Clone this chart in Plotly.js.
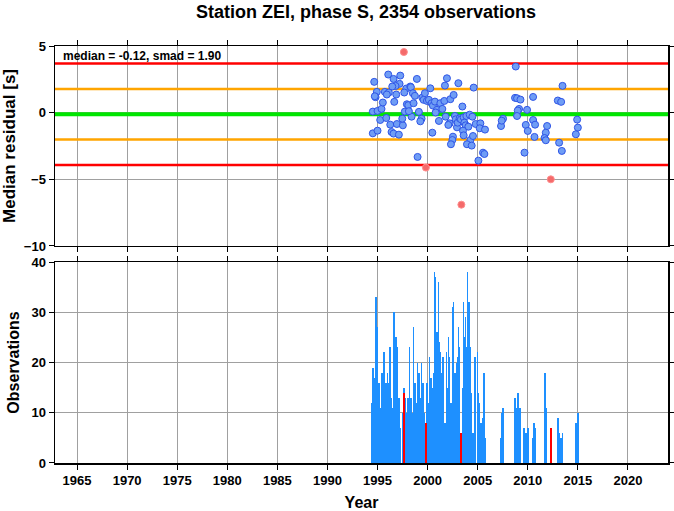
<!DOCTYPE html>
<html>
<head>
<meta charset="utf-8">
<script src="https://cdn.plot.ly/plotly-3.0.1.min.js"></script>
<style>html,body{margin:0;padding:0;background:#fff;}#chart{width:674px;height:511px;}</style>
</head>
<body>
<div id="chart"></div>
<script>
// ---- data ----
const medianValue = -0.12;
const smadValue = 1.90;

const residYears = [1994.67,1994.93,1994.80,1994.73,1994.53,1995.00,1995.40,1995.27,1995.87,1994.53,1995.00,1995.53,1996.07,1996.60,1997.27,1997.20,1996.80,1996.47,1995.73,1996.13,1995.93,1996.67,1996.87,1996.27,1996.93,1997.53,1996.40,1996.60,1997.13,1997.47,1997.73,1997.93,1998.07,1997.87,1998.27,1998.33,1997.67,1998.53,1998.73,1998.60,1998.40,1998.13,1998.93,1999.13,1999.40,1999.27,1999.47,1999.73,1999.60,1999.93,2000.13,2000.27,2000.40,2000.53,2000.73,2000.93,2001.13,2000.80,2001.27,2001.47,2001.67,2001.93,2001.73,2002.27,2002.60,2002.20,2002.07,2001.80,2002.93,2002.73,2003.07,2003.47,2002.80,2003.00,2003.20,2003.33,2003.60,2003.87,2004.20,2004.47,2003.67,2003.80,2004.07,2003.53,2003.60,2002.53,2002.47,2002.33,2004.27,2004.53,2003.93,2004.40,2004.80,2005.27,2005.20,2005.73,2004.60,2000.47,1999.00,2005.07,2005.53,2005.67,2007.33,2007.53,2007.40,2008.80,2008.73,2008.93,2009.27,2009.13,2009.00,2008.93,2009.93,2010.53,2010.53,2009.80,2010.00,2010.73,2010.67,2009.67,2011.80,2011.67,2011.80,2011.93,2013.13,2013.40,2013.47,2013.00,2013.33,2014.93,2015.00,2014.80];
const residValues = [2.31,1.56,1.16,1.23,0.08,0.13,0.28,-0.55,-0.40,-1.55,-1.35,0.76,2.86,2.53,2.78,2.16,2.00,1.96,1.56,1.51,1.36,0.81,1.36,-0.90,-0.85,-0.95,-1.45,-1.57,-1.65,-0.45,0.08,0.63,0.56,1.81,1.96,1.91,1.51,1.46,1.26,0.71,-0.30,0.11,2.53,0.06,-0.45,-0.65,1.13,1.46,0.96,0.88,0.96,1.83,0.71,0.53,0.83,0.21,-0.62,0.01,0.71,0.28,0.88,2.58,2.03,1.01,1.33,-0.80,-0.92,-0.30,-1.10,-0.25,2.21,0.46,-0.50,-0.75,-0.42,-0.50,-0.35,-0.25,-0.15,-0.30,-0.75,-0.95,-1.05,-1.35,-1.70,-1.80,-2.05,-2.37,-2.05,-1.75,-2.37,-2.47,-0.85,-0.80,-1.17,-1.27,1.88,-1.50,-3.32,-3.60,-3.00,-3.10,-1.00,-0.45,-0.60,3.46,1.11,1.08,0.98,0.28,0.16,-0.25,0.21,1.18,-0.55,-0.92,-1.37,-0.90,-1.82,-3.00,-1.50,-1.90,-2.07,-1.00,-2.25,-2.87,2.01,0.91,0.81,-0.52,-1.12,-1.62];

const outlierYears = [1997.63, 1999.83, 2003.37, 2012.30];
const outlierValues = [4.55, -4.12, -6.90, -5.00];

const barYears = [1994.47,1994.53,1994.67,1994.73,1994.80,1994.87,1994.93,1995.03,1995.20,1995.33,1995.47,1995.60,1995.67,1995.80,1995.87,1996.00,1996.13,1996.27,1996.33,1996.47,1996.53,1996.67,1996.73,1996.87,1997.00,1997.13,1997.20,1997.27,1997.53,1997.67,1997.80,1997.93,1998.07,1998.20,1998.33,1998.47,1998.60,1998.73,1998.87,1999.00,1999.13,1999.27,1999.40,1999.53,1999.67,1999.93,2000.07,2000.20,2000.33,2000.47,2000.60,2000.67,2000.80,2000.93,2001.07,2001.20,2001.27,2001.40,2001.53,2001.60,2001.73,2001.87,2001.93,2002.07,2002.20,2002.33,2002.47,2002.60,2002.73,2002.87,2003.00,2003.07,2003.20,2003.47,2003.60,2003.73,2003.80,2003.93,2004.00,2004.13,2004.20,2004.27,2004.40,2004.53,2004.73,2004.80,2005.00,2005.07,2005.20,2005.33,2005.47,2005.53,2005.60,2005.73,2007.33,2007.40,2007.53,2008.73,2008.87,2009.00,2009.13,2009.27,2009.60,2009.73,2009.87,2010.00,2010.47,2010.60,2010.73,2011.67,2011.73,2011.80,2013.00,2013.13,2013.27,2013.40,2013.47,2014.80,2014.93,2015.00];
const barCounts = [12,19,17,9,27,33,27,16,16,11,18,21,22,11,16,18,16,23,13,10,11,30,20,25,23,13,9,7,10,15,13,10,13,23,13,10,27,16,12,20,18,13,20,16,10,16,12,21,17,15,18,38,37,26,36,24,22,18,21,18,8,22,15,25,21,12,31,32,18,20,21,27,23,15,32,25,29,23,38,32,5,23,14,6,21,21,22,14,12,8,7,9,18,5,5,10,11,13,11,14,11,11,7,6,6,7,5,8,7,11,18,11,9,6,5,5,6,8,7,10];

const outlierBarYears = [1997.60, 1999.80, 2003.33, 2012.27];
const outlierBarCounts = [14, 8, 6, 7];

const xTickVals = [1965,1970,1975,1980,1985,1990,1995,2000,2005,2010,2015,2020];
const xRange = [1962.8, 2024];

// ---- chart ----
const blue = '#1e90ff';
const traces = [
  {type:'bar', x:barYears, y:barCounts, xaxis:'x2', yaxis:'y2', width:0.16,
   marker:{color:blue, line:{width:0}}, hoverinfo:'x+y'},
  {type:'bar', x:outlierBarYears, y:outlierBarCounts, xaxis:'x2', yaxis:'y2', width:0.2,
   marker:{color:'#ff0000', line:{width:0}}, hoverinfo:'x+y'},
  {type:'scatter', mode:'markers', x:residYears, y:residValues, xaxis:'x', yaxis:'y',
   marker:{size:7, color:'#6f9df5', line:{color:'#2f55e6', width:1}}},
  {type:'scatter', mode:'markers', x:outlierYears, y:outlierValues, xaxis:'x', yaxis:'y',
   marker:{size:7, color:'#f46a6a', line:{color:'#ff8c8c', width:1}}}
];

const levels = [
  {v: medianValue + 2*smadValue, c:'#ff0000', w:2.5},
  {v: medianValue + smadValue, c:'#ffa500', w:2.5},
  {v: medianValue, c:'#00e600', w:4},
  {v: medianValue - smadValue, c:'#ffa500', w:2.5},
  {v: medianValue - 2*smadValue, c:'#ff0000', w:2.5}
];
const shapes = levels.map(l => ({type:'line', xref:'x', yref:'y', x0:xRange[0], x1:xRange[1], y0:l.v, y1:l.v,
  line:{color:l.c, width:l.w}, layer:'between'}));

const tickFont = {family:'Liberation Sans, Arial, sans-serif', size:13, color:'#000', weight:'bold'};
const titleFont = {family:'Liberation Sans, Arial, sans-serif', size:16, color:'#000', weight:'bold'};

const xCommon = {range:xRange, tickvals:xTickVals, ticks:'outside', ticklen:5, tickwidth:1,
  tickcolor:'#000', showline:true, linecolor:'#000', linewidth:1.5, mirror:'ticks',
  showgrid:true, gridcolor:'#a0a0a0', gridwidth:1, zeroline:false, tickfont:tickFont};

const layout = {
  width:674, height:511,
  margin:{l:55, r:6, t:46, b:48},
  paper_bgcolor:'#fff', plot_bgcolor:'#fff',
  showlegend:false, barmode:'overlay', bargap:0,
  title:{text:'Station ZEI, phase S, 2354 observations', font:Object.assign({}, titleFont, {size:18}),
    x:0.543, xanchor:'center', y:0.99, yanchor:'top'},
  xaxis:Object.assign({}, xCommon, {anchor:'y', showticklabels:false, matches:'x2'}),
  xaxis2:Object.assign({}, xCommon, {anchor:'y2', title:{text:'Year', font:titleFont, standoff:10}}),
  yaxis:{domain:[0.5204,1], range:[-10,5], tickvals:[-10,-5,0,5], ticks:'outside', ticklen:5,
    tickcolor:'#000', showline:true, linecolor:'#000', linewidth:1.5, mirror:'ticks',
    showgrid:true, gridcolor:'#a0a0a0', zeroline:false, tickfont:tickFont,
    title:{text:'Median residual [s]', font:Object.assign({}, titleFont, {size:17}), standoff:8}},
  yaxis2:{domain:[0,0.482], range:[0,40], tickvals:[0,10,20,30,40], ticks:'outside', ticklen:5,
    tickcolor:'#000', showline:true, linecolor:'#000', linewidth:1.5, mirror:'ticks',
    showgrid:true, gridcolor:'#a0a0a0', zeroline:false, tickfont:tickFont,
    title:{text:'Observations', font:titleFont, standoff:8}},
  shapes:shapes,
  annotations:[{text:'median = -0.12, smad = 1.90', xref:'x domain', yref:'y domain', x:0.01, y:0.995,
    xanchor:'left', yanchor:'top', showarrow:false,
    font:{family:'Liberation Sans, Arial, sans-serif', size:12, color:'#000', weight:'bold'}}]
};

Plotly.newPlot('chart', traces, layout, {displayModeBar:false, staticPlot:true});
</script>
</body>
</html>
